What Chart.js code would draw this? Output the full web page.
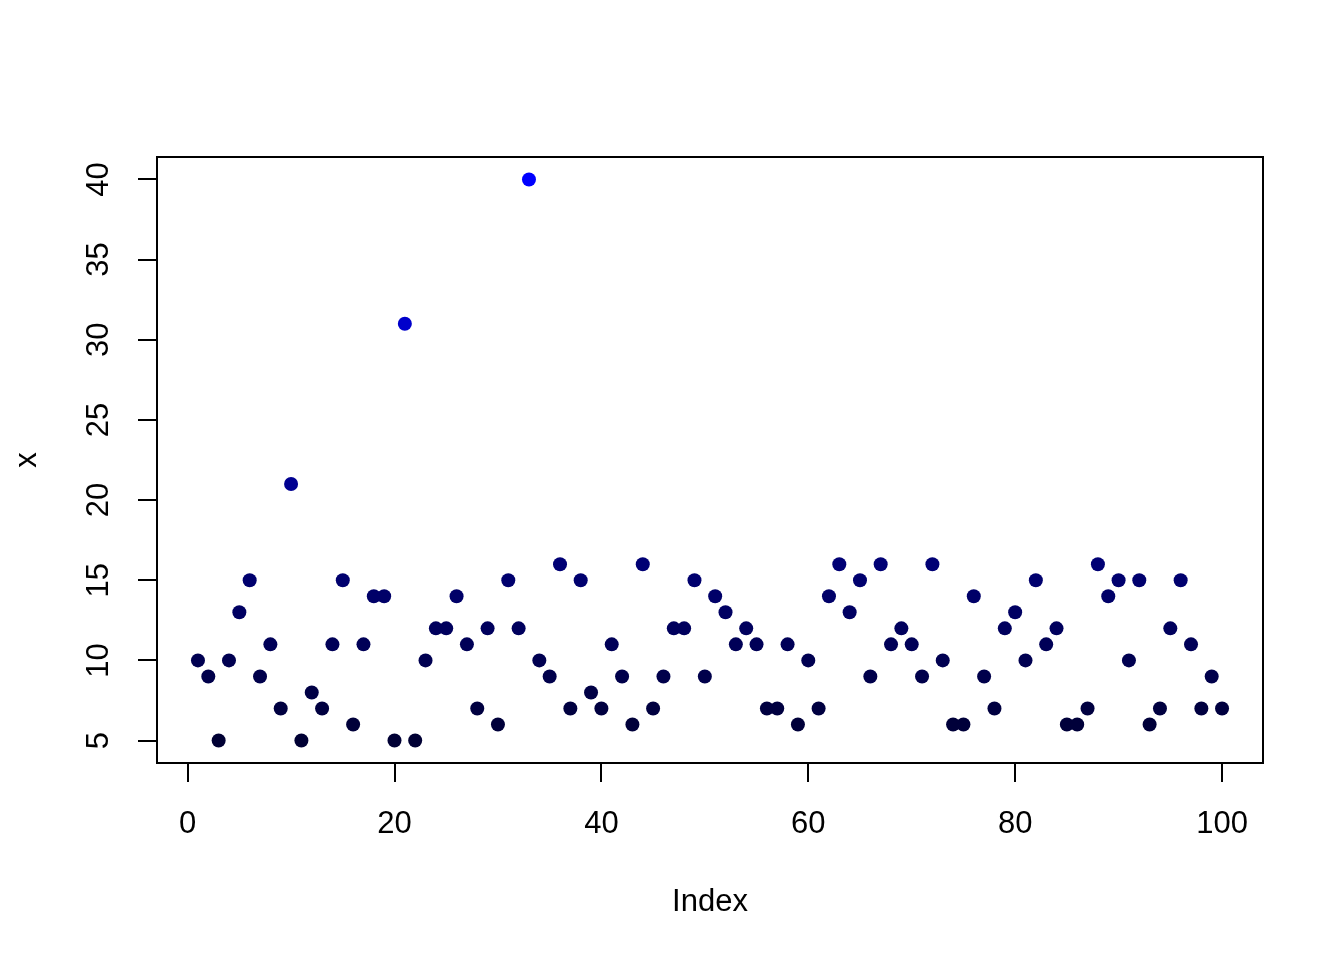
<!DOCTYPE html>
<html>
<head>
<meta charset="utf-8">
<script src="https://cdn.jsdelivr.net/npm/chart.js@4/dist/chart.umd.min.js"></script>
<style>
  html, body { margin:0; padding:0; background:#fff; }
  #wrap { width:1344px; height:960px; }
</style>
</head>
<body>
<div id="wrap"><canvas id="chart" width="1344" height="960"></canvas></div>
<script>
// ===== DATA =====
const values = [
  10, 9, 5, 10, 13, 15, 9, 11, 7, 21,
  5, 8, 7, 11, 15, 6, 11, 14, 14, 5,
  31, 5, 10, 12, 12, 14, 11, 7, 12, 6,
  15, 12, 40, 10, 9, 16, 7, 15, 8, 7,
  11, 9, 6, 16, 7, 9, 12, 12, 15, 9,
  14, 13, 11, 12, 11, 7, 7, 11, 6, 10,
  7, 14, 16, 13, 15, 9, 16, 11, 12, 11,
  9, 16, 10, 6, 6, 14, 9, 7, 12, 13,
  10, 15, 11, 12, 6, 6, 7, 16, 14, 15,
  10, 15, 6, 7, 12, 15, 11, 7, 9, 7
];
const index = values.map((v, i) => i + 1);
const xTicks = [0, 20, 40, 60, 80, 100];
const yTicks = [5, 10, 15, 20, 25, 30, 35, 40];

// darker for small values, pure blue for the largest
function shade(v){
  let b = Math.round(52 + 203 * (v - 5) / 35);
  return "rgb(0,0," + b + ")";
}

const font = { family: "'Liberation Sans', Arial, sans-serif", size: 31 };

// box round the plot area, like R's box()
const boxPlugin = {
  id: "box",
  afterDraw(c){
    let a = c.chartArea, ctx = c.ctx;
    ctx.save();
    ctx.strokeStyle = "#000";
    ctx.lineWidth = 2;
    ctx.strokeRect(a.left, a.top, a.right - a.left, a.bottom - a.top);
    ctx.restore();
  }
};

new Chart(document.getElementById("chart"), {
  type: "scatter",
  data: {
    datasets: [{
      data: index.map((x, i) => ({ x, y: values[i] })),
      backgroundColor: values.map(shade),
      borderWidth: 0,
      pointRadius: 7,
      pointHoverRadius: 7
    }]
  },
  options: {
    responsive: false,
    animation: false,
    layout: { padding: { top: 157, right: 81, left: 0, bottom: 0 } },
    plugins: { legend: { display: false }, tooltip: { enabled: false } },
    scales: {
      x: {
        type: "linear",
        min: -2.96, max: 103.96,
        afterBuildTicks: s => { s.ticks = xTicks.map(v => ({ value: v })); },
        afterFit: s => { s.height = 197; },
        border: { display: false },
        grid: { drawOnChartArea: false, drawTicks: true, tickLength: 19, color: "#000", lineWidth: 2 },
        ticks: { color: "#000", font, padding: 24, maxRotation: 0, autoSkip: false },
        title: { display: true, text: "Index", color: "#000", font, padding: { top: 0, bottom: 39 } }
      },
      y: {
        type: "linear",
        min: 3.6, max: 41.4,
        afterBuildTicks: s => { s.ticks = yTicks.map(v => ({ value: v })); },
        afterFit: s => { s.width = 157; },
        border: { display: false },
        grid: { drawOnChartArea: false, drawTicks: true, tickLength: 19, color: "#000", lineWidth: 2 },
        ticks: { color: "#000", font, padding: 21, minRotation: 90, maxRotation: 90, crossAlign: "center", autoSkip: false },
        title: { display: true, text: "x", color: "#000", font, padding: { top: 9, bottom: 0 } }
      }
    }
  },
  plugins: [boxPlugin]
});
</script>
</body>
</html>
